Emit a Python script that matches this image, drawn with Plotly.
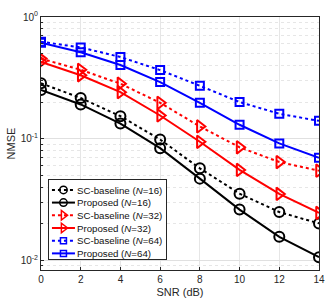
import plotly.graph_objects as go

snr = [0, 2, 4, 6, 8, 10, 12, 14]
sc16 = [0.285, 0.216, 0.153, 0.0983, 0.0570, 0.0353, 0.0249, 0.0201]
pr16 = [0.251, 0.191, 0.133, 0.0835, 0.0469, 0.0261, 0.0156, 0.0106]
sc32 = [0.455, 0.368, 0.283, 0.197, 0.126, 0.0849, 0.0642, 0.0545]
pr32 = [0.428, 0.332, 0.241, 0.155, 0.0942, 0.0553, 0.0351, 0.0245]
sc64 = [0.626, 0.562, 0.469, 0.366, 0.272, 0.200, 0.160, 0.140]
pr64 = [0.615, 0.513, 0.403, 0.292, 0.197, 0.130, 0.0913, 0.0695]

series = [
    ("SC-baseline (<i>N</i>=16)", sc16, "black", "dot", "circle-open", 10),
    ("Proposed (<i>N</i>=16)", pr16, "black", "solid", "circle-open", 10),
    ("SC-baseline (<i>N</i>=32)", sc32, "#ff0000", "dot", "triangle-right-open", 11),
    ("Proposed (<i>N</i>=32)", pr32, "#ff0000", "solid", "triangle-right-open", 11),
    ("SC-baseline (<i>N</i>=64)", sc64, "#0000ff", "dot", "square-open", 8),
    ("Proposed (<i>N</i>=64)", pr64, "#0000ff", "solid", "square-open", 8),
]

fig = go.Figure()
for name, ys, col, dash, sym, sz in series:
    fig.add_trace(go.Scatter(
        x=snr, y=ys, name=name, mode="lines+markers",
        line=dict(color=col, width=2, dash=dash),
        marker=dict(symbol=sym, size=sz, color=col, line=dict(width=2, color=col)),
    ))

font = "Liberation Sans, Arial, sans-serif"
fig.update_layout(
    width=335, height=307,
    margin=dict(l=41, r=13, t=10, b=34),
    paper_bgcolor="white", plot_bgcolor="white",
    font=dict(family=font, size=10, color="#262626"),
    showlegend=True,
    legend=dict(x=0.025, y=0.038, xanchor="left", yanchor="bottom",
                bgcolor="white", bordercolor="#262626", borderwidth=1,
                font=dict(size=9.7, family=font, color="#111111"),
                tracegroupgap=0, itemwidth=30),
    xaxis=dict(range=[0, 14], tickvals=[0, 2, 4, 6, 8, 10, 12, 14],
               showgrid=True, gridcolor="#e6e6e6", gridwidth=1,
               showline=True, linecolor="#262626", linewidth=1, mirror=True,
               ticks="inside", ticklen=3, tickcolor="#262626", zeroline=False,
               title=dict(text="SNR (dB)", font=dict(size=11), standoff=4)),
    yaxis=dict(type="log", range=[-2.08, 0],
               tickvals=[0.01, 0.1, 1],
               ticktext=["10<sup>-2</sup>", "10<sup>-1</sup>", "10<sup>0</sup>"],
               showgrid=True, gridcolor="#e0e0e0", gridwidth=1,
               minor=dict(dtick="D1", showgrid=True, gridcolor="#e6e6e6", griddash="dot",
                          ticks="inside", ticklen=2, tickcolor="#262626"),
               showline=True, linecolor="#262626", linewidth=1, mirror=True,
               ticks="inside", ticklen=3, tickcolor="#262626", zeroline=False,
               title=dict(text="NMSE", font=dict(size=11), standoff=2)),
)

post = r"""
document.body.style.margin = '0';
var gd = document.getElementById('{plot_id}');
(function () {
  var leg = gd.querySelector('g.legend');
  if (!leg) return;
  var re = /translate\(([-\d.e]+)[ ,]+([-\d.e]+)\)/;
  var items = leg.querySelectorAll('g.traces');
  var step = 12.7, topPad = 11, botPad = 6;
  var xs = [];
  items.forEach(function (t) {
    var m = re.exec(t.getAttribute('transform') || 'translate(0,0)');
    xs.push(parseFloat(m[1]));
  });
  var maxW = 0;
  items.forEach(function (t, i) {
    t.setAttribute('transform', 'translate(' + xs[i] + ',' + (topPad + i * step) + ')');
    t.querySelectorAll('path.js-line').forEach(function (p) { p.setAttribute('d', 'M3,0h23'); });
    t.querySelectorAll('g.legendpoints path').forEach(function (p) { p.setAttribute('transform', 'translate(14.5,0) scale(0.75)'); });
    var tx = t.querySelector('text.legendtext');
    if (tx) { tx.setAttribute('x', 28); maxW = Math.max(maxW, tx.getBBox().width); }
  });
  var bg = leg.querySelector('rect.bg');
  var oldH = parseFloat(bg.getAttribute('height'));
  var newH = topPad + (items.length - 1) * step + botPad;
  bg.setAttribute('height', newH);
  bg.setAttribute('width', xs[0] + 28 + maxW + 4);
  var m = re.exec(leg.getAttribute('transform'));
  leg.setAttribute('transform', 'translate(' + m[1] + ',' + (parseFloat(m[2]) + oldH - newH) + ')');
})();
"""

fig.write_html("out.html", post_script=post, config={"displayModeBar": False})
